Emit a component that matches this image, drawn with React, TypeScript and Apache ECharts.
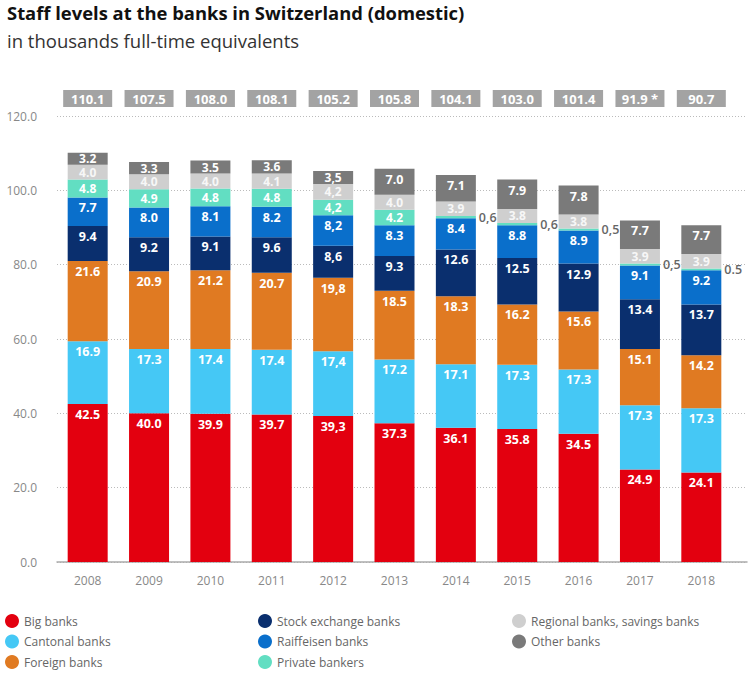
import React, { useEffect, useRef } from "react";
import * as echarts from "echarts";

const years = ["2008", "2009", "2010", "2011", "2012", "2013", "2014", "2015", "2016", "2017", "2018"];
const bigBanks = [42.5, 40.0, 39.9, 39.7, 39.3, 37.3, 36.1, 35.8, 34.5, 24.9, 24.1];
const cantonalBanks = [16.9, 17.3, 17.4, 17.4, 17.4, 17.2, 17.1, 17.3, 17.3, 17.3, 17.3];
const foreignBanks = [21.6, 20.9, 21.2, 20.7, 19.8, 18.5, 18.3, 16.2, 15.6, 15.1, 14.2];
const stockExchangeBanks = [9.4, 9.2, 9.1, 9.6, 8.6, 9.3, 12.6, 12.5, 12.9, 13.4, 13.7];
const raiffeisenBanks = [7.7, 8.0, 8.1, 8.2, 8.2, 8.3, 8.4, 8.8, 8.9, 9.1, 9.2];
const privateBankers = [4.8, 4.9, 4.8, 4.8, 4.2, 4.2, 0.6, 0.6, 0.5, 0.5, 0.5];
const regionalBanks = [4.0, 4.0, 4.0, 4.1, 4.2, 4.0, 3.9, 3.8, 3.8, 3.9, 3.9];
const otherBanks = [3.2, 3.3, 3.5, 3.6, 3.5, 7.0, 7.1, 7.9, 7.8, 7.7, 7.7];
const totals = [110.1, 107.5, 108.0, 108.1, 105.2, 105.8, 104.1, 103.0, 101.4, 91.9, 90.7];
const footnoteYears = ["2017"];
const commaYears = ["2012"];
const privateCommaYears = ["2014", "2015", "2016", "2017"];
const yTicks = [0, 20, 40, 60, 80, 100, 120];

const FONT = '"Open Sans", "Noto Sans", sans-serif';

type S = { name: string; values: number[]; color: string; labelColor: string; comma: string[] };
const seriesDefs: S[] = [
  { name: "Big banks", values: bigBanks, color: "#e3000f", labelColor: "#ffffff", comma: commaYears },
  { name: "Cantonal banks", values: cantonalBanks, color: "#45c8f5", labelColor: "#ffffff", comma: commaYears },
  { name: "Foreign banks", values: foreignBanks, color: "#e07a22", labelColor: "#ffffff", comma: commaYears },
  { name: "Stock exchange banks", values: stockExchangeBanks, color: "#0a2f6e", labelColor: "#ffffff", comma: commaYears },
  { name: "Raiffeisen banks", values: raiffeisenBanks, color: "#0a6fcb", labelColor: "#ffffff", comma: commaYears },
  { name: "Private bankers", values: privateBankers, color: "#62dec2", labelColor: "#ffffff", comma: [...commaYears, ...privateCommaYears] },
  { name: "Regional banks, savings banks", values: regionalBanks, color: "#cfcfcf", labelColor: "#f7f7f7", comma: commaYears },
  { name: "Other banks", values: otherBanks, color: "#7a7a7a", labelColor: "#ffffff", comma: commaYears },
];

function fmt(v: number, year: string, comma: string[]) {
  const s = v.toFixed(1);
  return comma.includes(year) ? s.replace(".", ",") : s;
}

export default function App() {
  const ref = useRef<HTMLDivElement>(null);
  useEffect(() => {
    if (!ref.current) return;
    const chart = echarts.init(ref.current, null, { renderer: "svg" });

    const barSeries = seriesDefs.map((d) => ({
      name: d.name,
      type: "bar",
      stack: "total",
      barWidth: 40,
      xAxisIndex: 0,
      yAxisIndex: 0,
      itemStyle: { color: d.color },
      data: d.values.map((v, i) => {
        const outside = v < 1;
        const small = v < 6;
        return {
          value: v,
          label: {
            show: true,
            formatter: fmt(v, years[i], d.comma),
            position: outside ? "right" : small ? "inside" : "insideTop",
            distance: outside ? 3 : 4,
            color: outside ? "#666666" : d.labelColor,
            fontWeight: outside ? 600 : "bold",
            fontSize: small && !outside ? 12 : 12.5,
            lineHeight: small && !outside ? 11 : 13,
            fontFamily: FONT,
          },
        };
      }),
    }));

    const legendCommon = {
      top: 614,
      padding: 0,
      orient: "vertical",
      icon: "circle",
      itemWidth: 14,
      itemHeight: 14,
      itemGap: 6.5,
      textStyle: { fontFamily: FONT, fontSize: 12, color: "#666666" },
    };

    const option: any = {
      animation: false,
      backgroundColor: "#ffffff",
      title: [
        {
          text: "Staff levels at the banks in Switzerland (domestic)",
          left: 7,
          top: 3,
          padding: 0,
          textStyle: { fontFamily: FONT, fontSize: 18.4, fontWeight: "bold", color: "#111111" },
        },
        {
          text: "in thousands full-time equivalents",
          left: 7,
          top: 31,
          padding: 0,
          textStyle: { fontFamily: FONT, fontSize: 18.5, fontWeight: "normal", color: "#333333" },
        },
      ],
      legend: [
        { ...legendCommon, left: 5, data: ["Big banks", "Cantonal banks", "Foreign banks"] },
        { ...legendCommon, left: 258, data: ["Stock exchange banks", "Raiffeisen banks", "Private bankers"] },
        { ...legendCommon, left: 512, data: ["Regional banks, savings banks", "Other banks"] },
      ],
      grid: [
        { left: 57, right: 18, top: 116, bottom: 116 },
        { left: 57, right: 3, top: 116, bottom: 116 },
      ],
      xAxis: [
        {
          type: "category",
          gridIndex: 0,
          data: years,
          axisLine: { show: false },
          axisTick: { show: false },
          axisLabel: { color: "#888888", fontFamily: FONT, fontSize: 12, margin: 12 },
        },
        {
          type: "value",
          gridIndex: 1,
          min: 0,
          max: 1,
          axisLine: { show: true, lineStyle: { color: "#aaaaaa", width: 1.5 } },
          axisTick: { show: false },
          axisLabel: { show: false },
          splitLine: { show: false },
        },
      ],
      yAxis: [
        {
          type: "value",
          gridIndex: 0,
          min: yTicks[0],
          max: yTicks[yTicks.length - 1],
          interval: 20,
          axisLine: { show: false },
          axisTick: { show: false },
          splitLine: { show: false },
          axisLabel: {
            color: "#888888",
            fontFamily: FONT,
            fontSize: 12,
            margin: 20,
            formatter: (v: number) => v.toFixed(1),
          },
        },
        {
          type: "value",
          gridIndex: 1,
          min: yTicks[0],
          max: yTicks[yTicks.length - 1],
          interval: 20,
          axisLine: { show: false },
          axisTick: { show: false },
          axisLabel: { show: false },
          splitLine: { show: true, lineStyle: { color: "#bbbbbb", type: [1, 2], width: 1 } },
        },
      ],
      series: [
        ...barSeries,
        {
          type: "custom",
          name: "totals",
          xAxisIndex: 0,
          yAxisIndex: 0,
          data: totals.map((t, i) => [i, t]),
          renderItem: (params: any, api: any) => {
            const i = api.value(0);
            const cx = api.coord([i, 0])[0];
            const t = api.value(1) as number;
            const txt = t.toFixed(1) + (footnoteYears.includes(years[i]) ? " *" : "");
            return {
              type: "group",
              children: [
                { type: "rect", shape: { x: cx - 24.5, y: 90, width: 49, height: 17 }, style: { fill: "#a3a3a3" } },
                {
                  type: "text",
                  x: cx,
                  y: 98.5,
                  style: {
                    text: txt,
                    fill: "#ffffff",
                    font: `bold 13px ${FONT}`,
                    align: "center",
                    verticalAlign: "middle",
                    textAlign: "center",
                    textVerticalAlign: "middle",
                  },
                },
              ],
            };
          },
        },
      ],
    };
    chart.setOption(option);
    return () => chart.dispose();
  }, []);
  return <div ref={ref} style={{ position: "fixed", left: 0, top: 0, width: 750, height: 678 }} />;
}
